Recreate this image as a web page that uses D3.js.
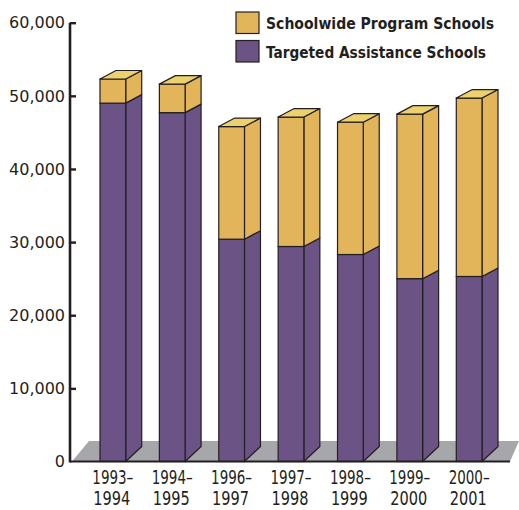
<!DOCTYPE html>
<html>
<head>
<meta charset="utf-8">
<script src="https://cdn.jsdelivr.net/npm/d3@7"></script>
<style>
  html, body { margin: 0; padding: 0; background: #fff; }
  svg { display: block; }
</style>
</head>
<body>
<svg id="chart" width="519" height="510"></svg>
<script>
// School years on the horizontal axis
const categories = ["1993–1994", "1994–1995", "1996–1997", "1997–1998", "1998–1999", "1999–2000", "2000–2001"];
// Number of schools, stacked: targeted assistance at the bottom, schoolwide on top
const targeted = [49000, 47700, 30400, 29400, 28300, 25000, 25300];
const schoolwide = [3300, 3900, 15400, 17700, 18100, 22500, 24400];
const yTicks = [0, 10000, 20000, 30000, 40000, 50000, 60000];
const seriesNames = ["Schoolwide Program Schools", "Targeted Assistance Schools"];

const colors = {
  gold: "#E3B55A", goldTop: "#EBD26E",
  purple: "#6B5386", purpleTop: "#7E67A0",
  floor: "#A6A7AA", ink: "#231F20"
};
const narrow = "'DejaVu Sans Condensed', 'Liberation Sans Narrow', sans-serif";

const svg = d3.select("#chart");

const x = d3.scaleBand().domain(categories).range([100, 482]).paddingInner(0.567).paddingOuter(0);
const y = d3.scaleLinear().domain([0, 60000]).range([461.5, 22.7]);

const depthX = 16, depthTop = -8.5, depthBottom = -15;
const y0 = y(0);

// floor under the bars
svg.append("path")
  .attr("d", d3.line()([[72, y0], [89, y0 - 20.5], [519, y0 - 20.5], [510, y0]]) + "Z")
  .attr("fill", colors.floor);

// stacked segments per category
const rows = categories.map((c, i) => ({
  cat: c,
  segs: [
    { lo: 0, hi: targeted[i], fill: colors.purple, top: colors.purpleTop, bottom: true },
    { lo: targeted[i], hi: targeted[i] + schoolwide[i], fill: colors.gold, top: colors.goldTop, bottom: false }
  ]
}));

const bars = svg.append("g").selectAll("g").data(rows).join("g");

bars.each(function (d) {
  const g = d3.select(this);
  const xl = x(d.cat), w = x.bandwidth(), xr = xl + w;
  d.segs.forEach((s) => {
    const yt = y(s.hi), yb = y(s.lo);
    const dyb = s.bottom ? depthBottom : depthTop;
    // side face
    g.append("path")
      .attr("d", d3.line()([[xr, yt], [xr + depthX, yt + depthTop], [xr + depthX, yb + dyb], [xr, yb]]) + "Z")
      .attr("fill", s.fill).attr("stroke", colors.ink).attr("stroke-width", 1.2).attr("stroke-linejoin", "round");
    // front face
    g.append("rect")
      .attr("x", xl).attr("y", yt).attr("width", w).attr("height", yb - yt)
      .attr("fill", s.fill).attr("stroke", colors.ink).attr("stroke-width", 1.2);
  });
  // lid on the topmost segment
  const top = d.segs[d.segs.length - 1];
  const yt = y(top.hi);
  g.append("path")
    .attr("d", d3.line()([[xl, yt], [xl + depthX, yt + depthTop], [xr + depthX, yt + depthTop], [xr, yt]]) + "Z")
    .attr("fill", top.top).attr("stroke", colors.ink).attr("stroke-width", 1.2).attr("stroke-linejoin", "round");
});

// baseline
svg.append("line")
  .attr("x1", 70).attr("x2", 510).attr("y1", y0).attr("y2", y0)
  .attr("stroke", colors.ink).attr("stroke-width", 2.2);

// vertical axis
const yAxis = svg.append("g").attr("transform", "translate(70,0)")
  .call(d3.axisRight(y).tickValues(yTicks).tickSize(6).tickFormat(() => ""));
yAxis.select(".domain").attr("d", `M0,${y(60000)}V${y0 + 1}`).attr("stroke", colors.ink).attr("stroke-width", 2.6);
yAxis.selectAll(".tick line").attr("stroke", colors.ink).attr("stroke-width", 2.4);
yAxis.selectAll(".tick").filter(d => d === 0).select("line").remove();

svg.append("g").selectAll("text").data(yTicks).join("text")
  .attr("x", 65).attr("y", d => y(d)).attr("dy", "0.36em")
  .attr("text-anchor", "end")
  .attr("font-family", "'DejaVu Sans', sans-serif").attr("font-size", 16)
  .attr("fill", colors.ink)
  .text(d => d3.format(",")(d));

// category labels on two lines
const xlab = svg.append("g")
  .attr("font-family", narrow).attr("font-size", 19)
  .attr("fill", colors.ink).attr("text-anchor", "middle");
categories.forEach(c => {
  const cx = x(c) + x.bandwidth() / 2;
  const [a, b] = c.split("–");
  xlab.append("text").attr("x", cx).attr("y", 483.5)
    .attr("textLength", 41).attr("lengthAdjust", "spacingAndGlyphs")
    .text(a + "–");
  xlab.append("text").attr("x", cx - 1).attr("y", 505)
    .attr("textLength", 37).attr("lengthAdjust", "spacingAndGlyphs")
    .text(b);
});

// legend
const legendWidths = [228, 220];
const legend = svg.append("g").selectAll("g").data(seriesNames).join("g")
  .attr("transform", (d, i) => `translate(236,${12 + i * 28.5})`);
legend.append("rect").attr("width", 23).attr("height", 21.5)
  .attr("fill", (d, i) => i === 0 ? colors.gold : colors.purple)
  .attr("stroke", colors.ink).attr("stroke-width", 1.2);
legend.append("text").attr("x", 30).attr("y", 17)
  .attr("font-family", narrow).attr("font-size", 16.5).attr("font-weight", "bold")
  .attr("textLength", (d, i) => legendWidths[i]).attr("lengthAdjust", "spacingAndGlyphs")
  .attr("fill", colors.ink)
  .text(d => d);
</script>
</body>
</html>
